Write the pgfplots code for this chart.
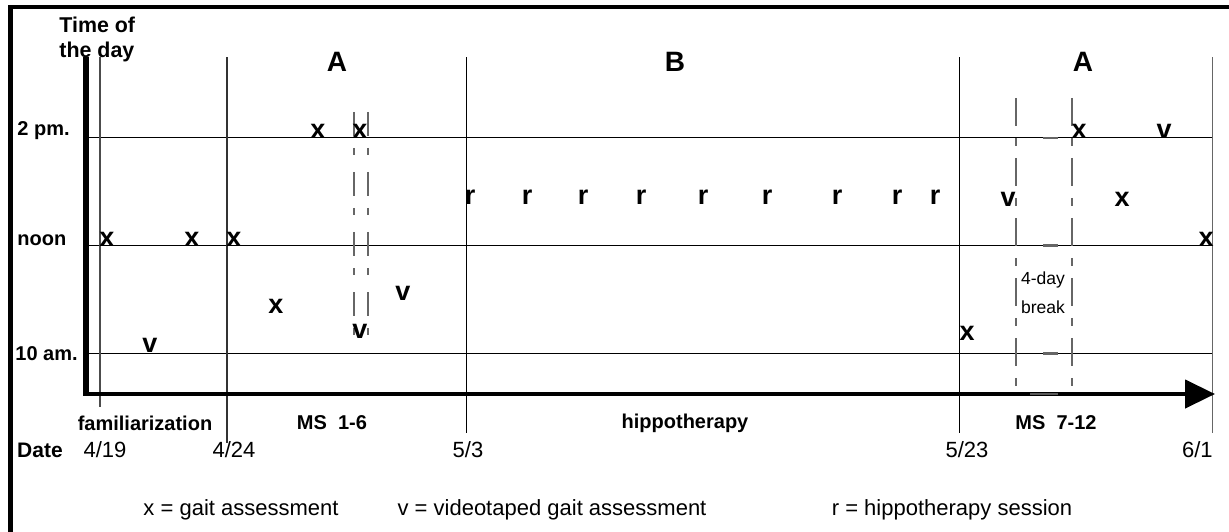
\documentclass[border=0pt]{standalone}
\usepackage{fontspec}
\setmainfont{Liberation Sans}
\usepackage{pgfplots}
\pgfplotsset{compat=1.18}
\usetikzlibrary{arrows.meta}
\begin{document}
\begin{tikzpicture}
\begin{axis}[x=0.5bp, y=26.95bp, xmin=0, xmax=1229, ymin=6.685, ymax=16.555,
  hide axis, clip=false]
% bounding coordinates
\coordinate (bbSW) at (axis cs:0,6.685);
\coordinate (bbNE) at (axis cs:1229,16.555);
% outer frame
\draw[line width=2.2bp] (axis cs:10.5,6.3) -- (axis cs:10.5,16.421) -- (axis cs:1240,16.421);
% horizontal time lines
\draw[line width=0.6bp] (axis cs:87,14) -- (axis cs:1212.7,14);
\draw[line width=0.6bp] (axis cs:87,12) -- (axis cs:1212.7,12);
\draw[line width=0.6bp] (axis cs:87,10) -- (axis cs:1212.7,10);
% vertical phase lines
\draw[line width=0.6bp, black!70] (axis cs:100,15.497) -- (axis cs:100,9.004);
\draw[line width=0.6bp, black!80] (axis cs:227,15.497) -- (axis cs:227,8.336);
\draw[line width=0.6bp] (axis cs:466.5,15.497) -- (axis cs:466.5,8.521);
\draw[line width=0.6bp] (axis cs:959.5,15.497) -- (axis cs:959.5,8.521);
\draw[line width=0.6bp, black!60] (axis cs:1212.7,15.497) -- (axis cs:1212.7,8.521);
% dashed lines
\draw[line width=0.6bp, black!60, dash pattern=on 12bp off 6bp on 3.5bp off 8.5bp] (axis cs:354,14.477) -- (axis cs:354,10.21);
\draw[line width=0.6bp, black!60, dash pattern=on 12bp off 6bp on 3.5bp off 8.5bp] (axis cs:368,14.477) -- (axis cs:368,10.21);
\draw[line width=0.6bp, black!60, dash pattern=on 14bp off 6bp on 4bp off 6bp] (axis cs:1016,14.737) -- (axis cs:1016,9.319);
\draw[line width=0.6bp, black!60, dash pattern=on 14bp off 6bp on 4bp off 6bp] (axis cs:1072,14.737) -- (axis cs:1072,9.319);
% break marks
\draw[line width=1.2bp, black!60] (axis cs:1043,14) -- (axis cs:1058,14);
\draw[line width=1.2bp, black!60] (axis cs:1043,12) -- (axis cs:1058,12);
\draw[line width=1.2bp, black!60] (axis cs:1043,10) -- (axis cs:1058,10);
% axes
\draw[line width=2.8bp] (axis cs:86,15.497) -- (axis cs:86,9.2);
\draw[line width=2.2bp, -{Triangle[length=15bp,width=14bp]}] (axis cs:85,9.245) -- (axis cs:1215,9.245);
\draw[line width=1.2bp, black!65] (axis cs:1030,9.245) -- (axis cs:1058,9.245);
% data: x = gait assessment
\addplot[black, only marks, mark=text, text mark={x}, text mark as node=true,
  text mark style={font=\bfseries\fontsize{13.5bp}{15bp}\selectfont}]
  coordinates {(107,12.12) (192,12.12) (234,12.12) (276,10.88) (318,14.11) (360,14.11)
               (967,10.37) (1079,14.11) (1122,12.86) (1206,12.12)};
% v = videotaped gait assessment
\addplot[black, only marks, mark=text, text mark={v}, text mark as node=true,
  text mark style={font=\bfseries\fontsize{13.5bp}{15bp}\selectfont}]
  coordinates {(150,10.14) (360,10.40) (403,11.12) (1008,12.86) (1164,14.11)};
% r = hippotherapy session
\addplot[black, only marks, mark=text, text mark={r}, text mark as node=true,
  text mark style={font=\bfseries\fontsize{13.5bp}{15bp}\selectfont}]
  coordinates {(470,12.89) (527,12.89) (583,12.89) (641,12.89) (703,12.89)
               (767,12.89) (837,12.89) (897,12.89) (935,12.89)};
% phase letters
\node[font=\bfseries\fontsize{14bp}{16bp}\selectfont] at (axis cs:337,15.41) {A};
\node[font=\bfseries\fontsize{14bp}{16bp}\selectfont] at (axis cs:675,15.41) {B};
\node[font=\bfseries\fontsize{14bp}{16bp}\selectfont] at (axis cs:1083,15.41) {A};
% y axis title and labels
\node[anchor=west, inner sep=0pt, font=\bfseries\fontsize{10.7bp}{13bp}\selectfont] at (axis cs:59,16.091) {Time of};
\node[anchor=west, inner sep=0pt, font=\bfseries\fontsize{10.7bp}{13bp}\selectfont] at (axis cs:59,15.590) {the day};
\node[anchor=base west, inner sep=0pt, font=\bfseries\fontsize{10bp}{12bp}\selectfont] at (axis cs:17,14.032) {2 pm.};
\node[anchor=base west, inner sep=0pt, font=\bfseries\fontsize{10bp}{12bp}\selectfont] at (axis cs:17,11.991) {noon};
\node[anchor=base west, inner sep=0pt, font=\bfseries\fontsize{10bp}{12bp}\selectfont] at (axis cs:15,9.875) {10 am.};
% phase names
\node[inner sep=0pt, font=\bfseries\fontsize{10bp}{12bp}\selectfont] at (axis cs:145,8.707) {familiarization};
\node[inner sep=0pt, font=\bfseries\fontsize{10bp}{12bp}\selectfont] at (axis cs:332,8.707) {MS~~1-6};
\node[inner sep=0pt, font=\bfseries\fontsize{10bp}{12bp}\selectfont] at (axis cs:685,8.707) {hippotherapy};
\node[inner sep=0pt, font=\bfseries\fontsize{10bp}{12bp}\selectfont] at (axis cs:1056,8.707) {MS~~7-12};
% dates
\node[inner sep=0pt, font=\bfseries\fontsize{10.5bp}{12bp}\selectfont] at (axis cs:40,8.206) {Date};
\node[inner sep=0pt, font=\fontsize{11bp}{13bp}\selectfont] at (axis cs:105,8.206) {4/19};
\node[inner sep=0pt, font=\fontsize{11bp}{13bp}\selectfont] at (axis cs:234,8.206) {4/24};
\node[inner sep=0pt, font=\fontsize{11bp}{13bp}\selectfont] at (axis cs:468,8.206) {5/3};
\node[inner sep=0pt, font=\fontsize{11bp}{13bp}\selectfont] at (axis cs:967,8.206) {5/23};
\node[anchor=east, inner sep=0pt, font=\fontsize{11bp}{13bp}\selectfont] at (axis cs:1213,8.206) {6/1};
% break note
\node[inner sep=0pt, font=\fontsize{8.75bp}{10bp}\selectfont] at (axis cs:1043,11.36) {4-day};
\node[inner sep=0pt, font=\fontsize{8.75bp}{10bp}\selectfont] at (axis cs:1043,10.859) {break};
% legend
\node[inner sep=0pt, font=\fontsize{11bp}{13bp}\selectfont] at (axis cs:241,7.093) {x = gait assessment};
\node[inner sep=0pt, font=\fontsize{11bp}{13bp}\selectfont] at (axis cs:552,7.093) {v = videotaped gait assessment};
\node[inner sep=0pt, font=\fontsize{11bp}{13bp}\selectfont] at (axis cs:952,7.093) {r = hippotherapy session};
\end{axis}
\pgfresetboundingbox
\path (bbSW) rectangle (bbNE);
\end{tikzpicture}
\end{document}
